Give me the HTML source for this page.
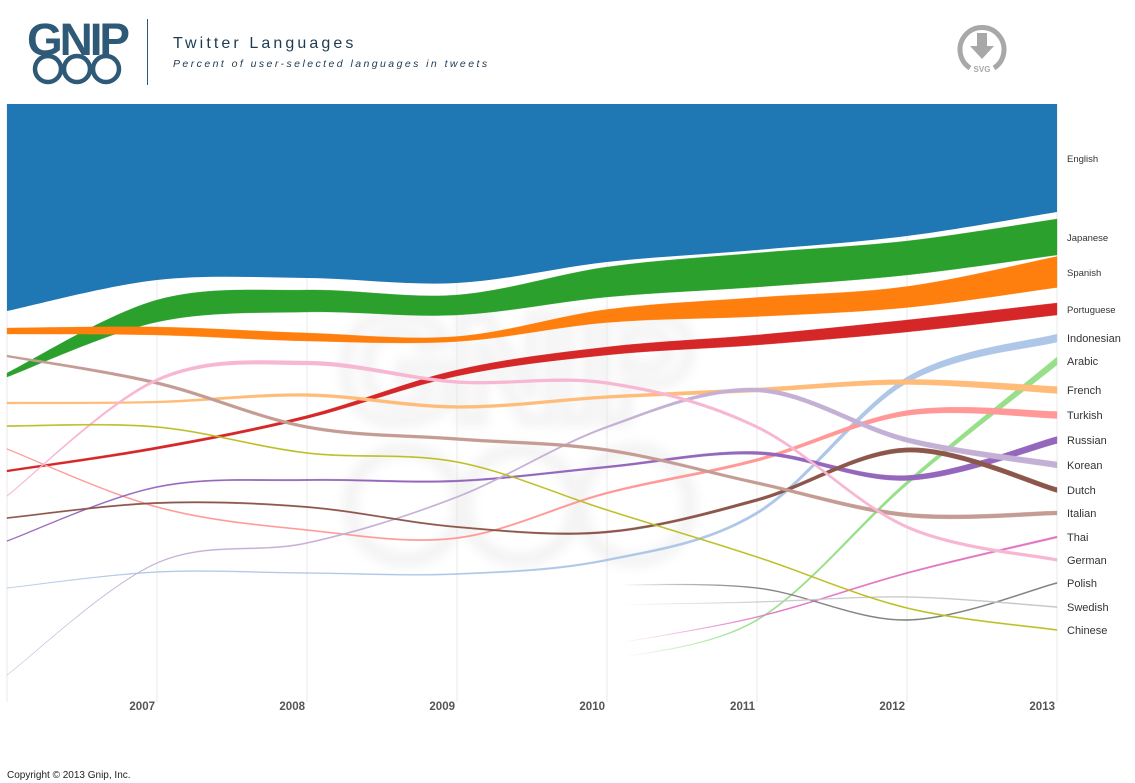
<!DOCTYPE html>
<html><head><meta charset="utf-8">
<style>
html,body{margin:0;padding:0;background:#fff;width:1135px;height:783px;overflow:hidden;font-family:"Liberation Sans",sans-serif}
svg{position:absolute;left:0;top:0}
</style></head>
<body>
<svg id="chart" width="1135" height="783">
  <defs>
    <filter id="blur"><feGaussianBlur stdDeviation="5"/></filter>
  </defs>
  <g>
    <text x="27" y="55" font-size="45" font-weight="bold" fill="#2e5a78" letter-spacing="-3" textLength="100" lengthAdjust="spacingAndGlyphs">GNIP</text>
    <g fill="none" stroke="#2e5a78" stroke-width="4.5">
      <circle cx="48" cy="69" r="13"/><circle cx="77" cy="69" r="13"/><circle cx="106" cy="69" r="13"/>
    </g>
    <line x1="147.5" y1="19" x2="147.5" y2="85" stroke="#2e5a78" stroke-width="1"/>
    <text x="173" y="48" font-size="16" fill="#1d3b52" letter-spacing="1.6" textLength="182">Twitter Languages</text>
    <text x="173" y="67" font-size="10.5" font-style="italic" fill="#1d3b52" letter-spacing="1.9" textLength="316">Percent of user-selected languages in tweets</text>
    <g>
      <path d="M970 68 A22 22 0 1 1 994 68" fill="none" stroke="#a8a8a8" stroke-width="5"/>
      <path d="M977 33 h10 v13 h7 l-12 13 l-12 -13 h7 z" fill="#a8a8a8"/>
      <text x="982" y="72" font-size="8" font-weight="bold" fill="#a8a8a8" text-anchor="middle">SVG</text>
    </g>
  </g>
  <g opacity="0.35" filter="url(#blur)">
    <text x="515" y="420" font-size="150" font-weight="bold" fill="none" stroke="#e0e0e0" stroke-width="14" text-anchor="middle" letter-spacing="-4">GNIP</text>
    <g fill="none" stroke="#e0e0e0" stroke-width="16"><circle cx="405" cy="505" r="55"/><circle cx="520" cy="505" r="55"/><circle cx="635" cy="505" r="55"/></g>
  </g>
  <g id="grid"></g>
  <g id="series"></g>
  <g id="labels"></g>
  <g id="xaxis"></g>
  <text x="7" y="778" font-size="10" fill="#222">Copyright © 2013 Gnip, Inc.</text>
</svg>
<script>
const years = [2006, 2007, 2008, 2009, 2010, 2011, 2012, 2013];
const tickLabels = ["2007", "2008", "2009", "2010", "2011", "2012", "2013"];
const languages = ["English","Japanese","Spanish","Portuguese","Indonesian","Arabic","French","Turkish","Russian","Korean","Dutch","Italian","Thai","German","Polish","Swedish","Chinese"];
const colors = ["#1f77b4","#2ca02c","#ff7f0e","#d62728","#aec7e8","#98df8a","#ffbb78","#ff9896","#9467bd","#c5b0d5","#8c564b","#c49c94","#e377c2","#f7b6d2","#7f7f7f","#c7c7c7","#bcbd22"];
// rank position (0 bottom .. 600 top) per year
const posEnglish = [492.5,508,509,506.5,517,523,530,542];
const posJapanese = [325,389,399,395,418,430,442,463];
const posSpanish = [369,369,363,361,384,393,403,428];
const posPortuguese = [229,252,283,327,349,360,374,391];
const posIndonesian = [112,128,127,126,140,187,320,362];
const posArabic = [null,null,null,null,40,80,217,339];
const posFrench = [297,298,305,293,303,310,318,310];
const posTurkish = [251,193,170,162,207,240,287,285];
const posRussian = [159,213,220,219,233,247,222,260];
const posKorean = [25,137,157,203,273,310,260,235];
const posDutch = [182,197,193,173,168,200,250,210];
const posItalian = [344,317,273,261,250,217,185,187];
const posThai = [null,null,null,null,55,83,127,163];
const posGerman = [204,320,337,318,317,273,173,140];
const posPolish = [null,null,null,null,115,112,80,117];
const posSwedish = [null,null,null,null,95,98,103,93];
const posChinese = [274,273,247,238,190,143,92,70];
// share (band thickness) per year
const shareEnglish = [207,176,174,179,158,146,132,108];
const shareJapanese = [4,22,22,20,30,34,34,36];
const shareSpanish = [6,8,8,5,13,19,21,31];
const sharePortuguese = [2,2.5,3,6,8,10,12,12];
const shareIndonesian = [0.5,1,1,1.3,2,3,6,8];
const shareArabic = [0,0,0,0,0.3,1.5,4,8];
const shareFrench = [2,2,3,3,3,4,5,7];
const shareTurkish = [1,1.3,1.3,1.5,2,3,5,7];
const shareRussian = [1,1.3,1.5,1.8,2,3,5,7];
const shareKorean = [0.3,1,1.3,1.5,2,4,5,6];
const shareDutch = [1.3,1.5,1.5,1.5,2,3,4.5,5];
const shareItalian = [2,3,3,3,3,3,4,4];
const shareThai = [0,0,0,0,0.3,1,1.5,2];
const shareGerman = [1,3,4,3,3,3,3,3];
const sharePolish = [0,0,0,0,0.8,1,1.2,1.3];
const shareSwedish = [0,0,0,0,0.3,0.8,1,1.2];
const shareChinese = [1.3,1.3,1.3,1.3,1.3,1.3,1.3,1.3];

const positions = [posEnglish,posJapanese,posSpanish,posPortuguese,posIndonesian,posArabic,posFrench,posTurkish,posRussian,posKorean,posDutch,posItalian,posThai,posGerman,posPolish,posSwedish,posChinese];
const shares = [shareEnglish,shareJapanese,shareSpanish,sharePortuguese,shareIndonesian,shareArabic,shareFrench,shareTurkish,shareRussian,shareKorean,shareDutch,shareItalian,shareThai,shareGerman,sharePolish,shareSwedish,shareChinese];

const NS = "http://www.w3.org/2000/svg";
const X0 = 7, X1 = 1057, YT = 104, YB = 702;
function xScale(yr){ return X0 + (yr - years[0]) / (years[years.length-1] - years[0]) * (X1 - X0); }
function yScale(v){ return 700 - v * (600 / 600); }
function wScale(s){ return s; }

function cardinal(pts){
  let d = "";
  for (let i = 0; i < pts.length - 1; i++){
    const p0 = pts[Math.max(0,i-1)], p1 = pts[i], p2 = pts[i+1], p3 = pts[Math.min(pts.length-1,i+2)];
    const t = 1/6;
    const c1x = p1[0] + (p2[0]-p0[0])*t, c1y = p1[1] + (p2[1]-p0[1])*t;
    const c2x = p2[0] - (p3[0]-p1[0])*t, c2y = p2[1] - (p3[1]-p1[1])*t;
    d += " C" + c1x.toFixed(2) + " " + c1y.toFixed(2) + " " + c2x.toFixed(2) + " " + c2y.toFixed(2) + " " + p2[0].toFixed(2) + " " + p2[1].toFixed(2);
  }
  return d;
}

const svg = document.getElementById("chart");
const defs = svg.querySelector("defs");

const grid = document.getElementById("grid");
years.forEach(function(yr){
  const l = document.createElementNS(NS, "line");
  l.setAttribute("x1", xScale(yr)); l.setAttribute("x2", xScale(yr));
  l.setAttribute("y1", YT); l.setAttribute("y2", YB);
  l.setAttribute("stroke", "#e8e8e8"); l.setAttribute("stroke-width", "1");
  
  
  grid.appendChild(l);
});

const xaxis = document.getElementById("xaxis");
tickLabels.forEach(function(lab, i){
  const t = document.createElementNS(NS, "text");
  t.setAttribute("x", xScale(years[i+1]) - 2);
  t.setAttribute("y", 710);
  t.setAttribute("text-anchor", "end");
  t.setAttribute("font-size", "11.5");
  t.setAttribute("font-weight", "bold");
  t.setAttribute("fill", "#555");
  t.textContent = lab;
  
  
  xaxis.appendChild(t);
});

const layer = document.getElementById("series");
const labels = document.getElementById("labels");
languages.forEach(function(name, k){
  const pos = positions[k], sh = shares[k];
  const top = [], bot = [];
  let firstIdx = -1;
  for (let i = 0; i < years.length; i++){
    if (pos[i] === null) continue;
    if (firstIdx < 0) firstIdx = i;
    const c = yScale(pos[i]), w = Math.max(wScale(sh[i]), 0.2);
    top.push([xScale(years[i]), c - w/2]);
    bot.push([xScale(years[i]), c + w/2]);
  }
  const botR = bot.slice().reverse();
  let d = "M" + top[0][0] + " " + top[0][1] + cardinal(top) + " L" + botR[0][0] + " " + botR[0][1] + cardinal(botR) + " Z";
  if (k === 0) {
    d = "M" + X0 + " " + YT + " L" + X1 + " " + YT + " L" + botR[0][0] + " " + botR[0][1] + cardinal(botR) + " Z";
  }
  let fill = colors[k];
  if (firstIdx > 0) {
    const g = document.createElementNS(NS, "linearGradient");
    g.setAttribute("id", "fade" + k);
    g.setAttribute("gradientUnits", "userSpaceOnUse");
    g.setAttribute("x1", xScale(years[firstIdx]) - 60);
    g.setAttribute("x2", xScale(years[firstIdx + 1]));
    g.setAttribute("y1", 0); g.setAttribute("y2", 0);
    const s0 = document.createElementNS(NS, "stop");
    s0.setAttribute("offset", "0.35"); s0.setAttribute("stop-color", colors[k]); s0.setAttribute("stop-opacity", "0");
    const s1 = document.createElementNS(NS, "stop");
    s1.setAttribute("offset", "1"); s1.setAttribute("stop-color", colors[k]); s1.setAttribute("stop-opacity", "1");
    g.appendChild(s0); g.appendChild(s1);
    defs.appendChild(g);
    fill = "url(#fade" + k + ")";
  }
  const p = document.createElementNS(NS, "path");
  p.setAttribute("d", d);
  p.setAttribute("fill", fill);
  if (k > 0) { p.setAttribute("stroke", fill); p.setAttribute("stroke-width", "0.3"); }
  
  
  layer.appendChild(p);

  const last = pos[pos.length-1];
  const t = document.createElementNS(NS, "text");
  t.setAttribute("x", 1067);
  t.setAttribute("y", k === 0 ? 162 : yScale(last) + 4);
  t.setAttribute("font-size", (k < 4) ? "9.5" : "11");
  t.setAttribute("fill", "#333");
  t.textContent = name;
  
  
  labels.appendChild(t);
});
</script>
</body></html>
